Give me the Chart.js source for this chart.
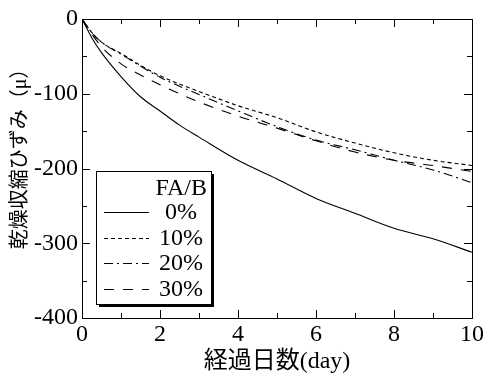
<!DOCTYPE html>
<html>
<head>
<meta charset="utf-8">
<script src="https://cdn.jsdelivr.net/npm/chart.js@4/dist/chart.umd.min.js"></script>
<style>
  html, body { margin: 0; padding: 0; background: #fff; }
  #wrap { width: 483px; height: 379px; }
</style>
</head>
<body>
<div id="wrap"><canvas id="c" width="483" height="379"></canvas></div>
<script>
// Elapsed days and drying shrinkage strain (μ) for each fly-ash ratio
const days  = [0, 0.25, 0.5, 1, 1.5, 2, 2.5, 3, 4, 5, 6, 7, 8, 9, 10];
const fa0   = [0, -25, -45, -77, -104, -123, -142, -158, -189, -214, -240, -260, -280, -294, -312];
const fa10  = [0, -18, -31, -46, -62, -76, -87, -97, -116, -132, -151, -166, -179, -189, -196];
const fa20  = [0, -18, -31, -47, -63, -78, -90, -101, -123, -144, -162, -175, -189, -202, -219];
const fa30  = [0, -20, -37, -60, -75, -88, -100, -111, -130, -146, -163, -178, -189, -196, -204];
const seriesLabels = ['0%', '10%', '20%', '30%'];
const legendTitle = 'FA/B';
const xTicks = [0, 2, 4, 6, 8, 10];
const yTicks = [-400, -300, -200, -100, 0];
const xTitle = '経過日数(day)';
const yTitle = '乾燥収縮ひずみ（μ）';

const SERIF = "'Liberation Serif', 'Times New Roman', 'Noto Sans CJK JP', serif";
const dashes = [[], [4, 3], [9, 4, 2, 4], [10, 9]];

const toPts = arr => days.map((d, i) => ({ x: d, y: arr[i] }));
const datasets = [fa0, fa10, fa20, fa30].map((arr, i) => ({
  label: seriesLabels[i],
  data: toPts(arr),
  borderColor: '#000',
  borderWidth: 1.1,
  borderDash: dashes[i],
  pointRadius: 0,
  fill: false,
  cubicInterpolationMode: 'monotone'
}));

// Frame, inward ticks on all sides, axis titles and the boxed legend
const decor = {
  id: 'decor',
  afterDatasetsDraw(chart) {
    const ctx = chart.ctx;
    const a = chart.chartArea;
    const xs = chart.scales.x, ys = chart.scales.y;
    ctx.save();
    ctx.strokeStyle = '#000';
    ctx.lineWidth = 1;
    ctx.setLineDash([]);
    ctx.strokeRect(Math.round(a.left) + 0.5, Math.round(a.top) + 0.5,
                   Math.round(a.right - a.left), Math.round(a.bottom - a.top));
    ctx.beginPath();
    for (let v = 0; v <= 10; v += 1) {
      const px = Math.round(xs.getPixelForValue(v)) + 0.5;
      const len = (v % 2 === 0) ? 8 : 5;
      ctx.moveTo(px, a.bottom); ctx.lineTo(px, a.bottom - len);
      ctx.moveTo(px, a.top); ctx.lineTo(px, a.top + len);
    }
    for (let v = -400; v <= 0; v += 50) {
      const py = Math.round(ys.getPixelForValue(v)) + 0.5;
      const len = (v % 100 === 0) ? 8 : 5;
      ctx.moveTo(a.left, py); ctx.lineTo(a.left + len, py);
      ctx.moveTo(a.right, py); ctx.lineTo(a.right - len, py);
    }
    ctx.stroke();

    // axis titles
    ctx.fillStyle = '#000';
    ctx.textAlign = 'center';
    ctx.textBaseline = 'middle';
    ctx.font = '24px ' + SERIF;
    ctx.fillText(xTitle, (a.left + a.right) / 2, 362);
    ctx.save();
    ctx.translate(21, 154);
    ctx.rotate(-Math.PI / 2);
    ctx.font = '20px ' + SERIF;
    ctx.fillText(yTitle, 0, 0);
    ctx.restore();

    // legend box with drop shadow
    const bx = 96, by = 171, bw = 115, bh = 133;
    ctx.fillStyle = '#000';
    ctx.fillRect(bx + 3, by + 3, bw, bh);
    ctx.fillStyle = '#fff';
    ctx.fillRect(bx, by, bw, bh);
    ctx.strokeRect(bx + 0.5, by + 0.5, bw, bh);

    ctx.fillStyle = '#000';
    ctx.font = '24px ' + SERIF;
    ctx.textAlign = 'right';
    ctx.fillText(legendTitle, 207, 189);
    chart.data.datasets.forEach((ds, i) => {
      const y = 212 + i * 25.5;
      ctx.beginPath();
      ctx.setLineDash(ds.borderDash);
      ctx.lineWidth = 1.1;
      ctx.moveTo(104, Math.round(y) + 0.5);
      ctx.lineTo(149, Math.round(y) + 0.5);
      ctx.stroke();
      ctx.setLineDash([]);
      ctx.fillText(ds.label, i === 0 ? 197 : 203, y + 1);
    });
    ctx.restore();
  }
};

new Chart(document.getElementById('c'), {
  type: 'line',
  data: { datasets },
  plugins: [decor],
  options: {
    responsive: false,
    devicePixelRatio: 1,
    animation: false,
    layout: { padding: { left: 0, right: 11, top: 19, bottom: 0 } },
    plugins: { legend: { display: false }, tooltip: { enabled: false } },
    scales: {
      x: {
        type: 'linear',
        min: 0, max: 10,
        afterBuildTicks: s => { s.ticks = xTicks.map(v => ({ value: v })); },
        afterFit: s => { s.height = 61; s.paddingLeft = 0; s.paddingRight = 0; },
        grid: { display: false, drawTicks: false },
        border: { display: false },
        ticks: { color: '#000', padding: 2, maxRotation: 0, font: { family: SERIF, size: 24 } }
      },
      y: {
        type: 'linear',
        min: -400, max: 0,
        afterBuildTicks: s => { s.ticks = yTicks.map(v => ({ value: v })); },
        afterFit: s => { s.width = 82; s.paddingTop = 0; s.paddingBottom = 0; },
        grid: { display: false, drawTicks: false },
        border: { display: false },
        ticks: { color: '#000', padding: 4, font: { family: SERIF, size: 24 } }
      }
    }
  }
});
</script>
</body>
</html>
